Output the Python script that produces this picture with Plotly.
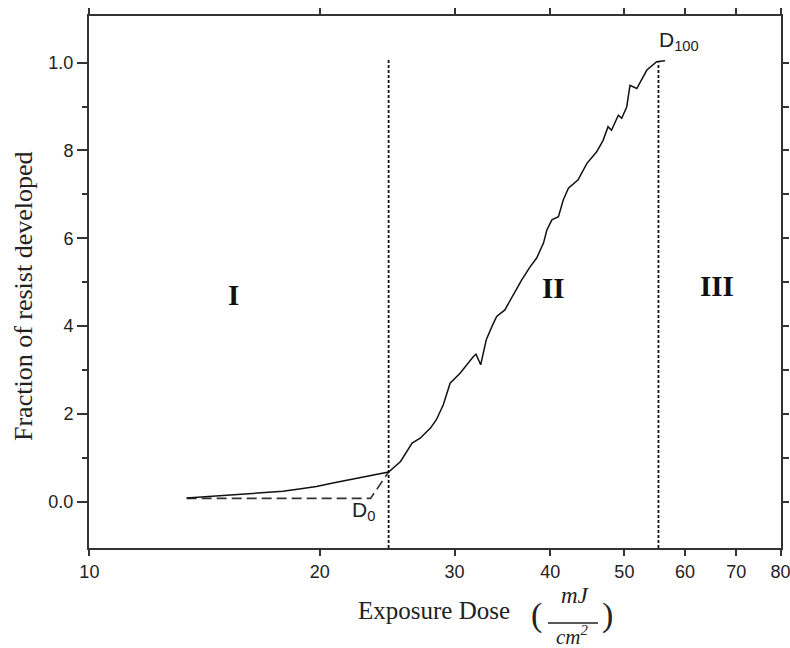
import numpy as np
import plotly.graph_objects as go

# ---- data ----
dose_curve = [13.4, 14.5, 15.4, 16.7, 17.9, 18.9, 19.8, 20.8, 21.9, 23.0, 24.6,
              25.5, 26.4, 27.05, 27.9, 28.4, 29.0, 29.6, 30.5, 31.75, 32.0, 32.45,
              33.0, 33.56, 34.05, 34.9, 35.8, 36.7, 37.65, 38.4, 39.2, 39.6, 40.2,
              41.0, 41.6, 42.25, 43.5, 44.65, 46.0, 46.9, 47.6, 48.1, 49.1, 49.6,
              50.35, 50.85, 51.9, 52.7, 53.5, 55.1, 56.5]
frac_curve = [0.009, 0.013, 0.017, 0.020, 0.024, 0.030, 0.035, 0.043, 0.051, 0.058, 0.068,
              0.092, 0.134, 0.145, 0.168, 0.187, 0.221, 0.270, 0.293, 0.331, 0.336, 0.312,
              0.369, 0.399, 0.422, 0.437, 0.471, 0.505, 0.535, 0.555, 0.589, 0.619, 0.642,
              0.649, 0.687, 0.714, 0.733, 0.770, 0.797, 0.823, 0.854, 0.846, 0.880, 0.873,
              0.899, 0.948, 0.941, 0.964, 0.983, 1.002, 1.004]

dose_extrap = [13.4, 23.3, 24.6]
frac_extrap = [0.008, 0.008, 0.068]

d0_dose = 24.6
d100_dose = 55.4
d0_line_y = [-0.105, 1.006]
d100_line_y = [-0.105, 1.0]

x_tickvals = [10, 20, 30, 40, 50, 60, 70, 80]
x_ticktext = ["10", "20", "30", "40", "50", "60", "70", "80"]
y_tickvals = [0.0, 0.2, 0.4, 0.6, 0.8, 1.0]
y_ticktext = ["0.0", "2", "4", "6", "8", "1.0"]
y_minorvals = [0.1, 0.3, 0.5, 0.7, 0.9]
y_right_vals = [0.0, 0.1, 0.2, 0.3, 0.4, 0.5, 0.6, 0.7, 0.8, 0.9, 1.0]

region_labels = ["I", "II", "III"]
region_x = [15.42, 40.45, 66.0]
region_y = [0.471, 0.487, 0.492]

# ---- layout constants ----
L, R, T, B = 89, 9, 16, 100
W, H = 790, 648
PW, PH = W - L - R, H - T - B
def px(xp):
    return (xp - L) / PW
def py(yp):
    return (H - B - yp) / PH

axis_col = "#333333"
txt_col = "#222222"
serif = "Liberation Serif, Times New Roman, serif"
sans = "Liberation Sans, Arial, sans-serif"

fig = go.Figure()

fig.add_trace(go.Scatter(x=dose_extrap, y=frac_extrap, mode="lines",
                         line=dict(color="#333333", width=1.6, dash="10px,5px"),
                         hoverinfo="skip", showlegend=False))
fig.add_trace(go.Scatter(x=dose_curve, y=frac_curve, mode="lines",
                         line=dict(color="#111111", width=1.5),
                         showlegend=False))
fig.add_trace(go.Scatter(x=[d0_dose, d0_dose], y=d0_line_y, mode="lines",
                         line=dict(color="#111111", width=1.8, dash="3px,2px"),
                         hoverinfo="skip", showlegend=False))
fig.add_trace(go.Scatter(x=[d100_dose, d100_dose], y=d100_line_y, mode="lines",
                         line=dict(color="#111111", width=1.8, dash="3px,2px"),
                         hoverinfo="skip", showlegend=False))
# right axis carrier
fig.add_trace(go.Scatter(x=[d0_dose], y=[0], yaxis="y2", mode="markers",
                         marker=dict(opacity=0), hoverinfo="skip", showlegend=False))

yr = [-0.105, 1.106]
fig.update_layout(
    width=W, height=H,
    margin=dict(l=L, r=R, t=T, b=B, autoexpand=False),
    paper_bgcolor="white", plot_bgcolor="white",
    xaxis=dict(type="log", range=[np.log10(10) - 0.0005, np.log10(80) + 0.0005],
               tickvals=x_tickvals, ticktext=x_ticktext, automargin=False,
               ticklabeloverflow="allow",
               showgrid=False, zeroline=False,
               showline=True, linecolor=axis_col, linewidth=2, mirror="ticks",
               ticks="outside", ticklen=6, tickwidth=2, tickcolor=axis_col,
               tickfont=dict(family=sans, size=18, color=txt_col)),
    yaxis=dict(range=yr, tickvals=y_tickvals, ticktext=y_ticktext, automargin=False,
               showgrid=False, zeroline=False,
               showline=True, linecolor=axis_col, linewidth=2,
               ticks="outside", ticklen=10, tickwidth=2, tickcolor=axis_col,
               minor=dict(tickvals=y_minorvals, ticks="outside", ticklen=5,
                          tickwidth=2, tickcolor=axis_col, showgrid=False),
               tickfont=dict(family=sans, size=18, color=txt_col)),
    yaxis2=dict(range=yr, overlaying="y", side="right", tickvals=y_right_vals,
                showticklabels=False, showgrid=False, zeroline=False, automargin=False,
                showline=True, linecolor=axis_col, linewidth=2,
                ticks="outside", ticklen=6, tickwidth=2, tickcolor=axis_col),
)

ann = []
for lab, xv, yv in zip(region_labels, region_x, region_y):
    ann.append(dict(x=np.log10(xv), y=yv, xref="x", yref="y", text="<b>" + lab + "</b>",
                    showarrow=False, font=dict(family=serif, size=29, color="#111"),
                    xanchor="center", yanchor="middle"))
ann.append(dict(x=np.log10(55.14), y=1.049, xref="x", yref="y",
                text="D<sub>100</sub>", showarrow=False, xanchor="left", yanchor="middle",
                font=dict(family=sans, size=21, color=txt_col)))
ann.append(dict(x=np.log10(21.9), y=-0.02, xref="x", yref="y",
                text="D<sub>0</sub>", showarrow=False, xanchor="left", yanchor="middle",
                font=dict(family=sans, size=21, color=txt_col)))
# axis titles
ann.append(dict(x=px(23), y=py(296), xref="paper", yref="paper",
                text="Fraction of resist developed", textangle=-90, showarrow=False,
                xanchor="center", yanchor="middle",
                font=dict(family=serif, size=26, color=txt_col)))
ann.append(dict(x=px(434), y=py(610), xref="paper", yref="paper",
                text="Exposure Dose", showarrow=False, xanchor="center", yanchor="middle",
                font=dict(family=serif, size=25, color=txt_col)))
ann.append(dict(x=px(536), y=py(615), xref="paper", yref="paper", text="(",
                showarrow=False, xanchor="center", yanchor="middle",
                font=dict(family=serif, size=34, color=txt_col)))
ann.append(dict(x=px(607), y=py(615), xref="paper", yref="paper", text=")",
                showarrow=False, xanchor="center", yanchor="middle",
                font=dict(family=serif, size=34, color=txt_col)))
ann.append(dict(x=px(575), y=py(595), xref="paper", yref="paper", text="<i>mJ</i>",
                showarrow=False, xanchor="center", yanchor="middle",
                font=dict(family=serif, size=23, color=txt_col)))
ann.append(dict(x=px(572), y=py(651), xref="paper", yref="paper", text="<i>cm<sup>2</sup></i>",
                showarrow=False, xanchor="center", yanchor="bottom",
                font=dict(family=serif, size=21, color=txt_col)))
fig.update_layout(annotations=ann)
fig.add_shape(type="line", xref="paper", yref="paper",
              x0=px(548), x1=px(598), y0=py(623), y1=py(623),
              line=dict(color=txt_col, width=1.5))

fig.write_html("out.html")
